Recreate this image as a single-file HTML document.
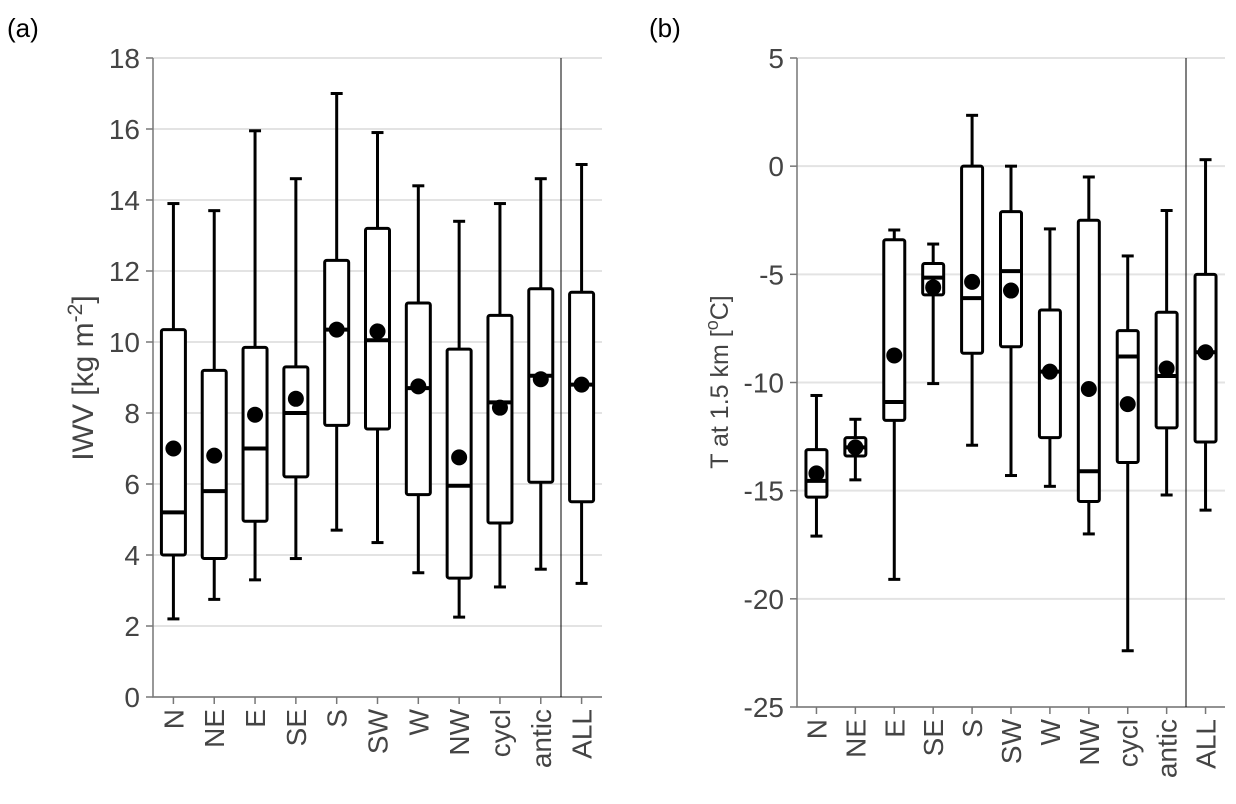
<!DOCTYPE html>
<html><head><meta charset="utf-8"><style>
body{margin:0;background:#fff}
svg{display:block;font-family:"Liberation Sans",Arial,sans-serif}
</style></head><body>
<svg id="chart" width="1236" height="804" viewBox="0 0 1236 804">
<text x="7" y="37" font-size="26" fill="#000">(a)</text>
<text x="649" y="37" font-size="26" fill="#000">(b)</text>
<g id="pa"></g>
<g id="pb"></g>
<text transform="translate(93,378) rotate(-90)" text-anchor="middle" font-size="30" fill="#444">IWV [kg m<tspan dy="-11" font-size="21">-2</tspan><tspan dy="11">]</tspan></text>
<text transform="translate(728,382) rotate(-90)" text-anchor="middle" font-size="25" fill="#444">T at 1.5 km [<tspan dy="-10" font-size="18">o</tspan><tspan dy="10">C]</tspan></text>
</svg>
<script>
const categories=["N","NE","E","SE","S","SW","W","NW","cycl","antic","ALL"];
// panel a: IWV
const aLow=[2.2,2.75,3.3,3.9,4.7,4.35,3.5,2.25,3.1,3.6,3.2];
const aQ1=[4.0,3.9,4.95,6.2,7.65,7.55,5.7,3.35,4.9,6.05,5.5];
const aMed=[5.2,5.8,7.0,8.0,10.35,10.05,8.7,5.95,8.3,9.05,8.8];
const aQ3=[10.35,9.2,9.85,9.3,12.3,13.2,11.1,9.8,10.75,11.5,11.4];
const aHigh=[13.9,13.7,15.95,14.6,17.0,15.9,14.4,13.4,13.9,14.6,15.0];
const aMean=[7.0,6.8,7.95,8.4,10.35,10.3,8.75,6.75,8.15,8.95,8.8];
const aTicks=[0,2,4,6,8,10,12,14,16,18];
// panel b: T at 1.5 km
const bLow=[-17.1,-14.5,-19.1,-10.05,-12.9,-14.3,-14.8,-17.0,-22.4,-15.2,-15.9];
const bQ1=[-15.3,-13.4,-11.75,-5.95,-8.65,-8.35,-12.55,-15.5,-13.7,-12.1,-12.75];
const bMed=[-14.55,-13.0,-10.9,-5.15,-6.1,-4.85,-9.5,-14.1,-8.8,-9.7,-8.6];
const bQ3=[-13.1,-12.55,-3.4,-4.5,0.0,-2.1,-6.65,-2.5,-7.6,-6.75,-5.0];
const bHigh=[-10.6,-11.7,-2.95,-3.6,2.35,0.0,-2.9,-0.5,-4.15,-2.05,0.3];
const bMean=[-14.2,-13.0,-8.75,-5.6,-5.35,-5.75,-9.5,-10.3,-11.0,-9.35,-8.6];
const bTicks=[-25,-20,-15,-10,-5,0,5];
const NS="http://www.w3.org/2000/svg";
function mk(p,t,a){const e=document.createElementNS(NS,t);for(const k in a)e.setAttribute(k,a[k]);p.appendChild(e);return e;}
function panel(g,cfg){
  const {x0,x1,yTop,yBot,vMin,vMax,ticks,low,q1,med,q3,high,mean,sep,bw}=cfg;
  const y=v=>yBot-(v-vMin)/(vMax-vMin)*(yBot-yTop);
  const step=(x1-x0)/categories.length;
  const x=i=>x0+step*(i+0.5);
  ticks.forEach(t=>{
    const l=mk(g,"line",{x1:x0,x2:x1,y1:y(t),y2:y(t),stroke:"#e3e3e3","stroke-width":2});
    
    
    const tk=mk(g,"line",{x1:x0-7,x2:x0,y1:y(t),y2:y(t),stroke:"#777","stroke-width":1.5});
    
    
    const tx=mk(g,"text",{x:x0-13,y:y(t)+10,"text-anchor":"end","font-size":28,fill:"#444"});
    tx.textContent=t;
    
    
  });
  const ax=mk(g,"path",{d:`M${x0},${yTop} V${yBot} H${x1}`,fill:"none",stroke:"#777","stroke-width":1.5});
  
  
  const s=mk(g,"line",{x1:sep,x2:sep,y1:yTop,y2:yBot,stroke:"#000","stroke-width":1});
  
  
  categories.forEach((c,i)=>{
    const cx=x(i);
    const bg=mk(g,"g",{});
    
    
    mk(bg,"line",{x1:cx,x2:cx,y1:y(high[i]),y2:y(q3[i]),stroke:"#000","stroke-width":3});
    mk(bg,"line",{x1:cx,x2:cx,y1:y(q1[i]),y2:y(low[i]),stroke:"#000","stroke-width":3});
    mk(bg,"line",{x1:cx-6,x2:cx+6,y1:y(high[i]),y2:y(high[i]),stroke:"#000","stroke-width":3});
    mk(bg,"line",{x1:cx-6,x2:cx+6,y1:y(low[i]),y2:y(low[i]),stroke:"#000","stroke-width":3});
    mk(bg,"rect",{x:cx-bw/2,y:y(q3[i]),width:bw,height:y(q1[i])-y(q3[i]),rx:2,fill:"#fff",stroke:"#000","stroke-width":3});
    mk(bg,"line",{x1:cx-bw/2,x2:cx+bw/2,y1:y(med[i]),y2:y(med[i]),stroke:"#000","stroke-width":4});
    const d=mk(bg,"circle",{cx:cx,cy:y(mean[i]),r:8,fill:"#000"});
    
    
    const tk=mk(g,"line",{x1:cx,x2:cx,y1:yBot,y2:yBot+7,stroke:"#777","stroke-width":1.5});
    
    
    const tx=mk(g,"text",{transform:`translate(${cx+10},${yBot+12}) rotate(-90)`,"text-anchor":"end","font-size":28,fill:"#444"});
    tx.textContent=c;
    
    
  });
}
panel(document.getElementById("pa"),{x0:153,x1:602,yTop:58,yBot:697,vMin:0,vMax:18,ticks:aTicks,low:aLow,q1:aQ1,med:aMed,q3:aQ3,high:aHigh,mean:aMean,sep:561,bw:24});
panel(document.getElementById("pb"),{x0:797,x1:1225,yTop:58,yBot:707,vMin:-25,vMax:5,ticks:bTicks,low:bLow,q1:bQ1,med:bMed,q3:bQ3,high:bHigh,mean:bMean,sep:1186,bw:21});
</script>
</body></html>
